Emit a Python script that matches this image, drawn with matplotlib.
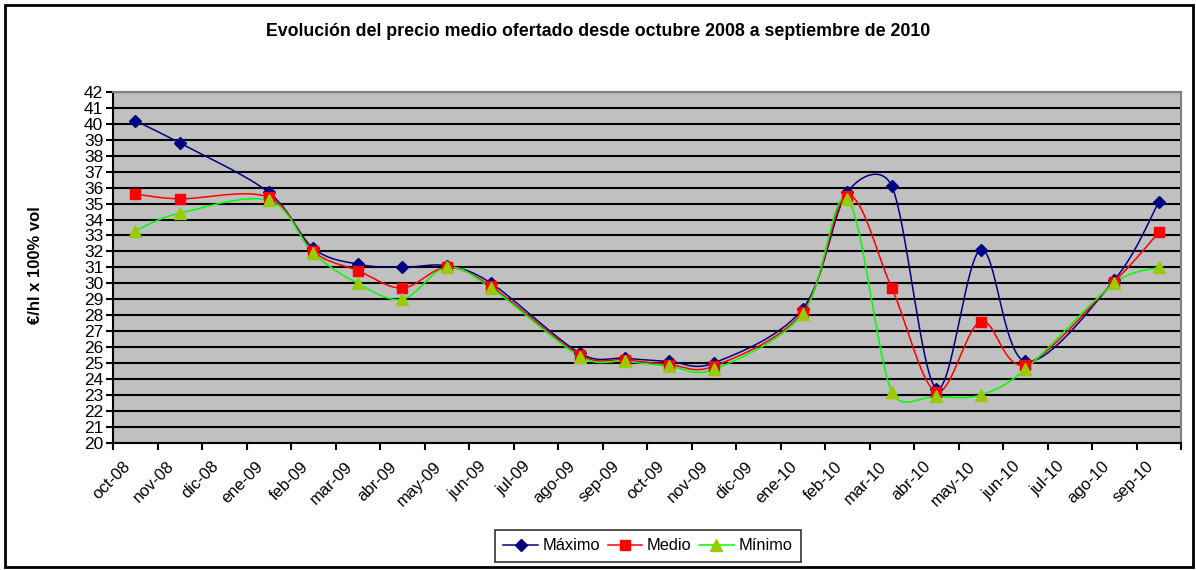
import matplotlib
matplotlib.use('Agg')
import matplotlib.pyplot as plt
import matplotlib.patches as mpatches
import matplotlib.transforms as mtransforms
import numpy as np

plt.rcParams['font.family'] = ['Liberation Sans', 'DejaVu Sans']

meses = ['oct-08', 'nov-08', 'dic-08', 'ene-09', 'feb-09', 'mar-09', 'abr-09', 'may-09',
         'jun-09', 'jul-09', 'ago-09', 'sep-09', 'oct-09', 'nov-09', 'dic-09', 'ene-10',
         'feb-10', 'mar-10', 'abr-10', 'may-10', 'jun-10', 'jul-10', 'ago-10', 'sep-10']
maximo = [40.2, 38.8, None, 35.7, 32.2, 31.2, 31.0, 31.1, 30.0, None, 25.6, 25.3,
          25.1, 25.0, None, 28.4, 35.7, 36.1, 23.4, 32.1, 25.1, None, 30.2, 35.1]
medio = [35.6, 35.3, None, 35.4, 32.0, 30.8, 29.7, 31.0, 29.8, None, 25.5, 25.2,
         24.9, 24.8, None, 28.2, 35.5, 29.7, 23.2, 27.6, 24.9, None, 30.1, 33.2]
minimo = [33.3, 34.4, None, 35.2, 31.9, 30.0, 29.0, 31.0, 29.7, None, 25.4, 25.1,
          24.8, 24.6, None, 28.1, 35.3, 23.2, 22.9, 23.0, 24.6, None, 30.0, 31.0]

SX, SY = 44.5, 15.93  # pixel size of one unit, for excel-like smoothing


def excel_smooth(xs, ys, n=40):
    # bezier smoothing like Excel's "smoothed line", done in pixel space
    p = np.column_stack([np.asarray(xs) * SX, np.asarray(ys) * SY])
    out = [p[:1]]
    t = np.linspace(0, 1, n)[1:, None]
    for i in range(len(p) - 1):
        p0 = p[i - 1] if i > 0 else p[i]
        p1, p2 = p[i], p[i + 1]
        p3 = p[i + 2] if i + 2 < len(p) else p[i + 1]
        d02 = np.hypot(*(p2 - p0)); d12 = np.hypot(*(p2 - p1)); d13 = np.hypot(*(p3 - p1))
        f0 = 1 / 6 if d02 / 6 <= d12 / 2 or d02 == 0 else d12 / (2 * d02)
        f1 = 1 / 6 if d13 / 6 <= d12 / 2 or d13 == 0 else d12 / (2 * d13)
        c1 = p1 + f0 * (p2 - p0)
        c2 = p2 - f1 * (p3 - p1)
        seg = ((1 - t) ** 3) * p1 + 3 * ((1 - t) ** 2) * t * c1 + 3 * (1 - t) * t ** 2 * c2 + t ** 3 * p2
        out.append(seg)
    out = np.vstack(out)
    return out[:, 0] / SX, out[:, 1] / SY


fig = plt.figure(figsize=(11.96, 5.70), dpi=100)
ax = fig.add_axes([113 / 1196, 127.3 / 570, 1068 / 1196, 350.7 / 570])
ax.set_facecolor('#C0C0C0')

series = [
    ('Máximo', maximo, '#000080', 'D', '#000080', 6.5),
    ('Medio', medio, '#FF0000', 's', '#FF0000', 6.5),
    ('Mínimo', minimo, '#00FF00', '^', '#99CC00', 8),
]
for name, vals, col, mk, mcol, ms in series:
    xs = [i + 0.5 for i, v in enumerate(vals) if v is not None]
    ys = [v for v in vals if v is not None]
    sx_, sy_ = excel_smooth(xs, ys)
    ax.plot(sx_, sy_, color=col, lw=1.1, zorder=3)
    ax.plot(xs, ys, ls='none', marker=mk, ms=ms, color=mcol, zorder=4)
    ax.plot([], [], color=col, lw=1.1, marker=mk, ms=ms, mfc=mcol, mec=mcol, label=name)

ax.set_xlim(0, 24)
ax.set_ylim(20, 42)
ax.set_yticks(range(20, 43))
ax.tick_params(axis='y', labelsize=12.5, length=5, width=1.5, pad=2)
ax.yaxis.grid(True, color='black', lw=1.5)
ax.set_axisbelow(True)

ax.set_xticks(range(0, 25))
ax.set_xticklabels([])
ax.set_xticks([i + 0.5 for i in range(24)], minor=True)
ax.set_xticklabels(meses, minor=True, rotation=45, ha='right', va='top',
                   rotation_mode='anchor', fontsize=12)
ax.tick_params(axis='x', which='major', length=5, width=1.5)
ax.tick_params(axis='x', which='minor', length=0, pad=8)
shift = mtransforms.ScaledTranslation(-13 / 100, -5 / 100, fig.dpi_scale_trans)
for lab in ax.get_xticklabels(minor=True):
    lab.set_transform(lab.get_transform() + shift)

for s in ['left', 'bottom']:
    ax.spines[s].set_color('black'); ax.spines[s].set_linewidth(1.5)
for s in ['top', 'right']:
    ax.spines[s].set_color('#808080'); ax.spines[s].set_linewidth(1.5)

fig.text(0.5, 0.945, 'Evolución del precio medio ofertado desde octubre 2008 a septiembre de 2010',
         ha='center', va='center', fontsize=12.8, fontweight='bold')
fig.text(35 / 1196, 0.535, '€/hl x 100% vol', rotation=90, ha='center', va='center',
         fontsize=12, fontweight='bold')

leg = fig.legend(loc='center', bbox_to_anchor=(648 / 1196, 24 / 570), ncol=3, fontsize=11.8,
                 frameon=True, fancybox=False, handlelength=2.1, columnspacing=0.45,
                 handletextpad=0.3, borderpad=0.5, borderaxespad=0)
leg.get_frame().set_edgecolor('black')
leg.get_frame().set_linewidth(1.2)

fig.patches.append(mpatches.Rectangle((5 / 1196, 3 / 570), 1188 / 1196, 562 / 570,
                                      transform=fig.transFigure, fill=False,
                                      edgecolor='black', lw=2))

fig.savefig('out.png', dpi=100)
